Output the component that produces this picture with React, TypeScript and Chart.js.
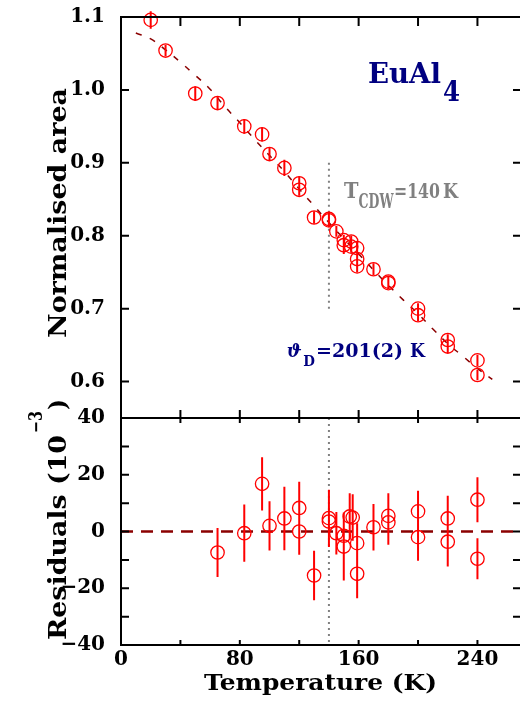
import React, { useEffect, useRef } from 'react';
import { Chart, registerables } from 'chart.js';

Chart.register(...registerables);

// ---------------- data ----------------
const TEMP_TOP = [20, 30, 50, 65, 83, 95, 100, 110, 120, 120, 130, 140, 140, 145, 150, 150, 155, 155, 159, 159, 159, 170, 180, 180, 200, 200, 220, 220, 240, 240];
const AREA = [1.096, 1.054, 0.995, 0.982, 0.950, 0.939, 0.912, 0.893, 0.872, 0.863, 0.825, 0.823, 0.821, 0.806, 0.794, 0.787, 0.792, 0.785, 0.783, 0.768, 0.758, 0.754, 0.737, 0.735, 0.700, 0.691, 0.657, 0.648, 0.629, 0.609];
const AREA_ERR = [0.012, 0.008, 0.010, 0.0086, 0.0101, 0.0094, 0.0087, 0.0112, 0.0092, 0.0082, 0.0087, 0.010, 0.009, 0.0075, 0.0075, 0.012, 0.0082, 0.0082, 0.008, 0.007, 0.0086, 0.0082, 0.008, 0.0079, 0.0073, 0.0083, 0.008, 0.0087, 0.0079, 0.0072];

const FIT_T = [10, 20, 30, 40, 50, 60, 70, 80, 90, 100, 110, 120, 130, 140, 150, 160, 170, 180, 190, 200, 210, 220, 230, 240, 250];
const FIT_AREA = [1.078, 1.070, 1.055, 1.038, 1.020, 1.001, 0.977, 0.955, 0.932, 0.910, 0.888, 0.864, 0.841, 0.818, 0.796, 0.775, 0.753, 0.732, 0.712, 0.693, 0.672, 0.652, 0.635, 0.618, 0.603];

const TEMP_RES = [65, 83, 95, 100, 110, 120, 120, 130, 140, 140, 145, 150, 150, 154, 156, 159, 159, 170, 180, 180, 200, 200, 220, 220, 240, 240];
const RESID = [-7.4, -0.6, 16.8, 2.0, 4.6, 8.3, 0.0, -15.5, 4.7, 3.5, -0.6, -1.5, -5.3, 5.3, 4.9, -4.1, -14.9, 1.5, 5.5, 3.2, 7.1, -2.0, 4.6, -3.6, 11.2, -9.6];
const RESID_ERR = [8.6, 10.1, 9.4, 8.7, 11.2, 9.2, 8.2, 8.7, 10, 9, 7.5, 7.5, 12, 8.2, 8.2, 7, 8.6, 8.2, 8, 7.9, 7.3, 8.3, 8, 8.7, 7.9, 7.2];

const T_CDW = 140;
const T_CDW_SPAN_TOP = [0.7, 0.9];
const RES_ZERO = 0;

const X_LABEL_TICKS = [0, 80, 160, 240];
const X_FRAME_TICKS = [40, 80, 120, 160, 200, 240];
const Y_TOP_TICKS = [0.6, 0.7, 0.8, 0.9, 1.0, 1.1];
const Y_TOP_FRAME_TICKS = [0.6, 0.7, 0.8, 0.9, 1.0];
const Y_BOT_TICKS = [-40, -20, 0, 20, 40];
const Y_BOT_FRAME_TICKS = [-30, -20, -10, 0, 10, 20, 30];

const X_MIN = 0, X_MAX = 270;
const YT_MIN = 0.55, YT_MAX = 1.1;
const YB_MIN = -40, YB_MAX = 40;

// ---------------- styling ----------------
const FONT = "'DejaVu Serif', serif";
const RED = '#ff0000';
const FIT_COLOR = '#8b0000';
const GREY = '#808080';
const NAVY = '#000080';

function fitText(ctx: CanvasRenderingContext2D, text: string, x: number, y: number, w: number, font: string, color: string) {
  ctx.save();
  ctx.font = font;
  ctx.fillStyle = color;
  ctx.textAlign = 'left';
  ctx.textBaseline = 'alphabetic';
  const m = ctx.measureText(text).width;
  ctx.translate(x, y);
  ctx.scale(w / m, 1);
  ctx.fillText(text, 0, 0);
  ctx.restore();
}

function zeroPadding(s: any) {
  s.paddingTop = 0;
  s.paddingBottom = 0;
  s.paddingLeft = 0;
  s.paddingRight = 0;
}

const framePlugin = {
  id: 'framePlugin',
  afterDatasetsDraw(chart: any) {
    const ctx: CanvasRenderingContext2D = chart.ctx;
    const xs = chart.scales.x;
    const yt = chart.scales.yTop;
    const yb = chart.scales.yBot;
    // error bars
    chart.data.datasets.forEach((ds: any) => {
      if (!ds.errorBars) return;
      const ys = chart.scales[ds.yAxisID];
      ctx.save();
      ctx.strokeStyle = RED;
      ctx.lineWidth = 2;
      ctx.beginPath();
      ds.data.forEach((p: any, j: number) => {
        const e = ds.errorBars[j];
        const px = xs.getPixelForValue(p.x);
        ctx.moveTo(px, ys.getPixelForValue(p.y - e));
        ctx.lineTo(px, ys.getPixelForValue(p.y + e));
      });
      ctx.stroke();
      ctx.restore();
    });

    const { left: L, right: R, top: T, bottom: B } = chart.chartArea;
    const M = yt.bottom;
    ctx.save();
    ctx.strokeStyle = '#000';
    ctx.lineWidth = 2;
    ctx.beginPath();
    ctx.moveTo(L, T - 1); ctx.lineTo(L, B + 1);
    ctx.moveTo(L, T); ctx.lineTo(R, T);
    ctx.moveTo(L, M); ctx.lineTo(R, M);
    ctx.moveTo(L, B); ctx.lineTo(R, B);
    ctx.moveTo(R, T); ctx.lineTo(R, B);
    Y_TOP_FRAME_TICKS.forEach((v) => {
      const py = yt.getPixelForValue(v);
      ctx.moveTo(L, py); ctx.lineTo(L + 8, py);
      ctx.moveTo(R - 9, py); ctx.lineTo(R, py);
    });
    Y_BOT_FRAME_TICKS.forEach((v) => {
      const py = yb.getPixelForValue(v);
      ctx.moveTo(L, py); ctx.lineTo(L + 8, py);
      ctx.moveTo(R - 9, py); ctx.lineTo(R, py);
    });
    X_FRAME_TICKS.forEach((v) => {
      const px = xs.getPixelForValue(v);
      ctx.moveTo(px, T); ctx.lineTo(px, T + 9);
      ctx.moveTo(px, M); ctx.lineTo(px, M - 8);
      ctx.moveTo(px, M); ctx.lineTo(px, M + 5);
      ctx.moveTo(px, B); ctx.lineTo(px, B - 5);
    });
    ctx.stroke();
    ctx.restore();
  },
  afterDraw(chart: any) {
    const ctx: CanvasRenderingContext2D = chart.ctx;
    const B = (s: number) => `bold ${s}px ${FONT}`;
    // annotations
    fitText(ctx, 'EuAl', 368, 83, 73, B(28), NAVY);
    fitText(ctx, '4', 443, 101, 17, B(28), NAVY);
    fitText(ctx, 'T', 344, 198, 14.5, B(22), GREY);
    fitText(ctx, 'CDW', 358.5, 208, 35, B(20), GREY);
    fitText(ctx, '=140', 394, 198, 46, B(20), GREY);
    fitText(ctx, 'K', 443, 198, 15, B(20), GREY);
    fitText(ctx, '\u03D1', 286.7, 357, 15, `bold italic 19px ${FONT}`, NAVY);
    fitText(ctx, 'D', 303.3, 366, 11.7, B(15), NAVY);
    fitText(ctx, '=201(2)', 316, 357, 87, B(19), NAVY);
    fitText(ctx, 'K', 410, 357, 15, B(19), NAVY);

    // axis titles
    fitText(ctx, 'Temperature (K)', 204, 690, 233, B(23), '#000');

    ctx.save();
    ctx.translate(66, 213);
    ctx.rotate(-Math.PI / 2);
    fitText(ctx, 'Normalised area', -125, 0, 250, B(24), '#000');
    ctx.restore();

    ctx.save();
    ctx.translate(66, 640);
    ctx.rotate(-Math.PI / 2);
    fitText(ctx, 'Residuals (10', 0, 0, 205, B(24), '#000');
    fitText(ctx, '\u22123', 207, -24, 22, B(18), '#000');
    fitText(ctx, ')', 230, 0, 11, B(24), '#000');
    ctx.restore();
  },
};

const tickFont = { family: FONT, size: 20, weight: 'bold' as const };

export default function App() {
  const ref = useRef<HTMLCanvasElement>(null);
  useEffect(() => {
    const canvas = ref.current;
    if (!canvas) return;
    const topPts = TEMP_TOP.map((t, i) => ({ x: t, y: AREA[i] }));
    const resPts = TEMP_RES.map((t, i) => ({ x: t, y: RESID[i] }));
    const fitPts = FIT_T.map((t, i) => ({ x: t, y: FIT_AREA[i] }));
    const pointStyle = {
      pointStyle: 'circle',
      pointRadius: 6.7,
      pointBorderWidth: 1.3,
      pointBorderColor: RED,
      pointBackgroundColor: 'rgba(0,0,0,0)',
      showLine: false,
      clip: false,
    };
    const chart = new Chart(canvas, {
      type: 'scatter',
      data: {
        datasets: [
          { data: topPts, yAxisID: 'yTop', errorBars: AREA_ERR, ...pointStyle } as any,
          { data: resPts, yAxisID: 'yBot', errorBars: RESID_ERR, ...pointStyle } as any,
          {
            data: fitPts,
            yAxisID: 'yTop',
            showLine: true,
            borderColor: FIT_COLOR,
            borderWidth: 1.5,
            borderDash: [6, 9],
            tension: 0.4,
            pointRadius: 0,
          } as any,
          {
            data: [{ x: X_MIN, y: RES_ZERO }, { x: X_MAX, y: RES_ZERO }],
            yAxisID: 'yBot',
            showLine: true,
            borderColor: FIT_COLOR,
            borderWidth: 2.5,
            borderDash: [12, 8],
            pointRadius: 0,
          } as any,
          {
            data: [{ x: T_CDW, y: T_CDW_SPAN_TOP[0] }, { x: T_CDW, y: T_CDW_SPAN_TOP[1] }],
            yAxisID: 'yTop',
            showLine: true,
            borderColor: GREY,
            borderWidth: 2,
            borderDash: [2, 4],
            pointRadius: 0,
          } as any,
          {
            data: [{ x: T_CDW, y: YB_MAX }, { x: T_CDW, y: YB_MIN }],
            yAxisID: 'yBot',
            showLine: true,
            borderColor: GREY,
            borderWidth: 2,
            borderDash: [2, 4],
            pointRadius: 0,
          } as any,
        ],
      },
      options: {
        responsive: false,
        animation: false,
        devicePixelRatio: 1,
        events: [],
        layout: { autoPadding: false, padding: { top: 17, right: 1, left: 0, bottom: 0 } },
        plugins: { legend: { display: false }, tooltip: { enabled: false } },
        scales: {
          x: {
            type: 'linear',
            position: 'bottom',
            min: X_MIN,
            max: X_MAX,
            grid: { display: false, drawTicks: false },
            border: { display: false },
            afterBuildTicks: (s: any) => { s.ticks = X_LABEL_TICKS.map((v) => ({ value: v })); },
            afterFit: (s: any) => { s.height = 64; zeroPadding(s); },
            ticks: { font: tickFont, color: '#000', padding: 3, maxRotation: 0, autoSkip: false, callback: (v: any) => String(v) },
          },
          yTop: {
            type: 'linear',
            position: 'left',
            stack: 'v',
            stackWeight: 401,
            weight: 2,
            min: YT_MIN,
            max: YT_MAX,
            grid: { display: false, drawTicks: false },
            border: { display: false },
            afterBuildTicks: (s: any) => { s.ticks = Y_TOP_TICKS.map((v) => ({ value: v })); },
            afterFit: (s: any) => { s.width = 121; zeroPadding(s); },
            ticks: { font: tickFont, color: '#000', padding: 16, autoSkip: false, callback: (v: any) => Number(v).toFixed(1) },
          },
          yBot: {
            type: 'linear',
            position: 'left',
            stack: 'v',
            stackWeight: 227,
            weight: 1,
            min: YB_MIN,
            max: YB_MAX,
            grid: { display: false, drawTicks: false },
            border: { display: false },
            afterBuildTicks: (s: any) => { s.ticks = Y_BOT_TICKS.map((v) => ({ value: v })); },
            afterFit: (s: any) => { s.width = 121; zeroPadding(s); },
            ticks: { font: tickFont, color: '#000', padding: 16, autoSkip: false, callback: (v: any) => (Number(v) < 0 ? '\u2212' + Math.abs(Number(v)) : String(v)) },
          },
        },
      } as any,
      plugins: [framePlugin],
    });
    return () => chart.destroy();
  }, []);
  return (
    <div style={{ position: 'fixed', left: 0, top: 0, width: 520, height: 709, overflow: 'hidden', background: '#fff' }}>
      <canvas ref={ref} width={523} height={709} style={{ display: 'block', width: 523, height: 709 }} />
    </div>
  );
}
